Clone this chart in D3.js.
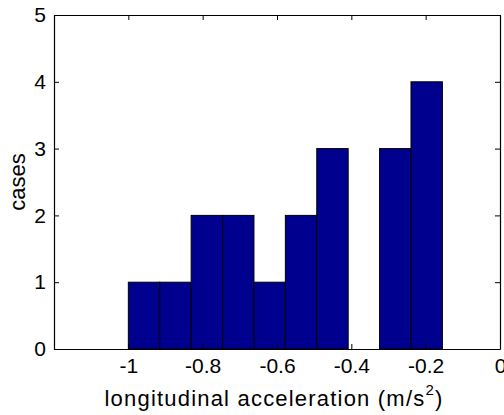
<!DOCTYPE html>
<html>
<head>
<meta charset="utf-8">
<script src="https://cdn.jsdelivr.net/npm/d3@7"></script>
<style>
  html, body { margin: 0; padding: 0; background: #fff; }
  svg { display: block; font-family: "Liberation Sans", Arial, sans-serif; }
</style>
</head>
<body>
<svg id="chart" width="504" height="415"></svg>
<script>
// ---- data ----
const binEdges = [-1.0, -0.9155, -0.831, -0.7465, -0.662, -0.5775, -0.493, -0.4085, -0.324, -0.2395, -0.155];
const counts = [1, 1, 2, 2, 1, 2, 3, 0, 3, 4];
const xTicks = [-1, -0.8, -0.6, -0.4, -0.2, 0];
const xTickLabels = ["-1", "-0.8", "-0.6", "-0.4", "-0.2", "0"];
const yTicks = [0, 1, 2, 3, 4, 5];
const yTickLabels = ["0", "1", "2", "3", "4", "5"];
const xDomain = [-1.2, 0];
const yDomain = [0, 5];

// ---- layout ----
const mLeft = 54, mRight = 500, mTop = 15, mBottom = 349;
const svg = d3.select("#chart");
const x = d3.scaleLinear().domain(xDomain).range([mLeft, mRight]);
const y = d3.scaleLinear().domain(yDomain).range([mBottom, mTop]);

const bins = counts.map((c, i) => ({ x0: binEdges[i], x1: binEdges[i + 1], c }));

svg.append("g").selectAll("rect")
  .data(bins.filter(d => d.c > 0))
  .join("rect")
  .attr("x", d => x(d.x0))
  .attr("y", d => y(d.c))
  .attr("width", d => x(d.x1) - x(d.x0))
  .attr("height", d => y(0) - y(d.c))
  .attr("fill", "#00008F")
  .attr("stroke", "#000")
  .attr("stroke-width", 1);

const fs = 21;
const tickLen = 5;

const xAxis = d3.axisBottom(x).tickValues(xTicks)
  .tickFormat((d, i) => xTickLabels[i]).tickSizeInner(-tickLen).tickSizeOuter(0).tickPadding(8);
const gx = svg.append("g").attr("transform", `translate(0,${mBottom})`).call(xAxis);
const xAxisTop = d3.axisTop(x).tickValues(xTicks).tickFormat("").tickSizeInner(-tickLen).tickSizeOuter(0);
const gxt = svg.append("g").attr("transform", `translate(0,${mTop})`).call(xAxisTop);
const yAxis = d3.axisLeft(y).tickValues(yTicks)
  .tickFormat((d, i) => yTickLabels[i]).tickSizeInner(-tickLen).tickSizeOuter(0).tickPadding(8);
const gy = svg.append("g").attr("transform", `translate(${mLeft},0)`).call(yAxis);
const yAxisR = d3.axisRight(y).tickValues(yTicks).tickFormat("").tickSizeInner(-tickLen).tickSizeOuter(0);
const gyr = svg.append("g").attr("transform", `translate(${mRight},0)`).call(yAxisR);

[gx, gxt, gy, gyr].forEach(g => {
  g.selectAll(".domain").attr("stroke", "#000").attr("stroke-width", 1.2);
  g.selectAll(".tick line").attr("stroke", "#000");
  g.selectAll("text").attr("font-size", fs).attr("fill", "#000")
    .attr("font-family", "'Liberation Sans', Arial, sans-serif");
});
gx.selectAll("text").attr("dy", "0.75em");

const xl = svg.append("text")
  .attr("x", (mLeft + mRight) / 2 - 3)
  .attr("y", 406)
  .attr("text-anchor", "middle")
  .attr("font-size", 22)
  .attr("letter-spacing", 1.2)
  .attr("fill", "#000");
xl.append("tspan").text("longitudinal acceleration (m/s");
xl.append("tspan").attr("dy", -11).attr("font-size", 15).text("2");
xl.append("tspan").attr("dy", 11).text(")");

svg.append("text")
  .attr("transform", `translate(25,${(mTop + mBottom) / 2}) rotate(-90)`)
  .attr("text-anchor", "middle")
  .attr("font-size", 22)
  .attr("fill", "#000")
  .text("cases");
</script>
</body>
</html>
